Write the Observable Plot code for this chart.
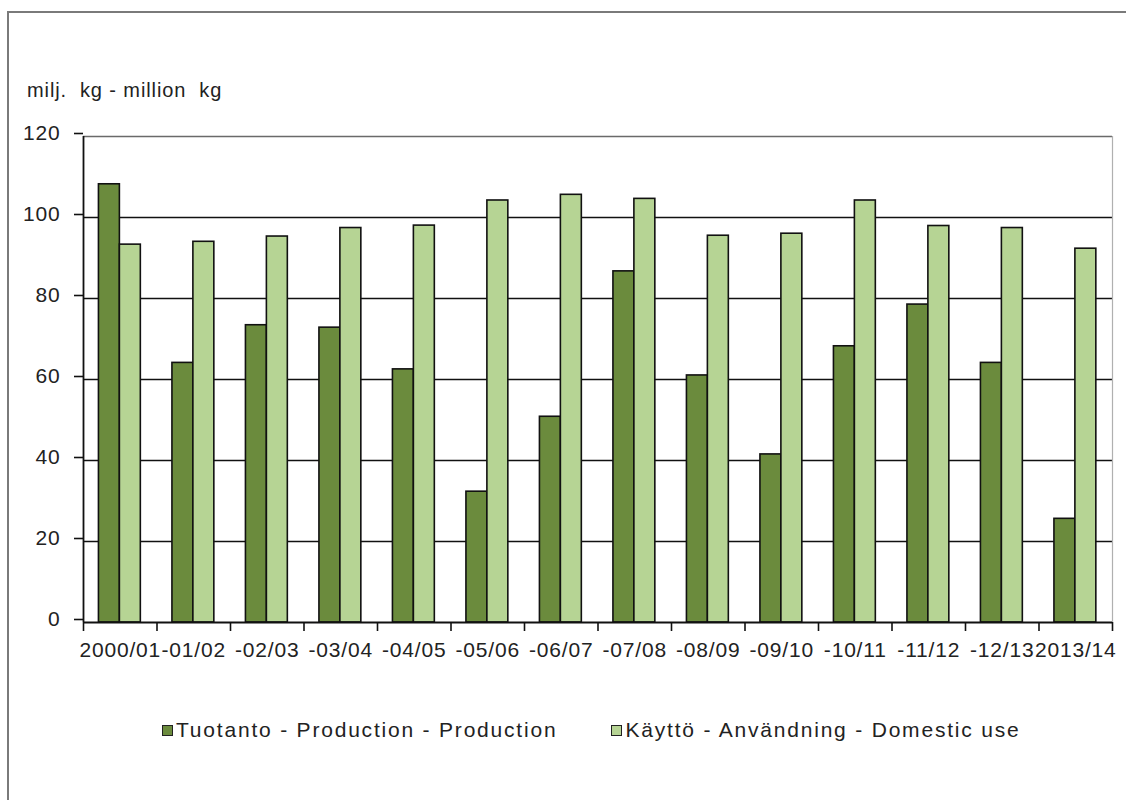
<!DOCTYPE html>
<html>
<head>
<meta charset="utf-8">
<script src="https://cdn.jsdelivr.net/npm/d3@7"></script>
<script src="https://cdn.jsdelivr.net/npm/@observablehq/plot@0.6"></script>
<style>
  html, body { margin: 0; padding: 0; background: #fff; }
  #wrap { position: relative; width: 1126px; height: 800px; overflow: hidden; font-family: "Liberation Sans", Arial, sans-serif; color: #222; }
  #frame { position: absolute; left: 7px; top: 11px; width: 1200px; height: 900px; border-left: 2px solid #7a7a7a; border-top: 2px solid #7a7a7a; }
  #chart { position: absolute; left: 0; top: 0; }
  #title { position: absolute; left: 27px; top: 79px; font-size: 20px; white-space: pre; letter-spacing: 0.9px; }
  #legend { position: absolute; left: 162px; top: 718px; font-size: 21px; white-space: pre; display: flex; align-items: center; letter-spacing: 1.8px; }
  .sw { display: inline-block; width: 9px; height: 9px; border: 1.5px solid #222; margin-right: 3px; }
</style>
</head>
<body>
<div id="wrap">
  <div id="frame"></div>
  <div id="chart"></div>
  <div id="title">milj.  kg - million  kg</div>
  <div id="legend"></div>
</div>
<script>
const categories = ["2000/01", "-01/02", "-02/03", "-03/04", "-04/05", "-05/06", "-06/07", "-07/08", "-08/09", "-09/10", "-10/11", "-11/12", "-12/13", "2013/14"];
const production = [108.2, 64.1, 73.4, 72.8, 62.5, 32.3, 50.8, 86.7, 61.0, 41.5, 68.2, 78.5, 64.1, 25.6];
const domesticUse = [93.3, 94.0, 95.3, 97.4, 98.0, 104.2, 105.6, 104.6, 95.5, 96.0, 104.2, 97.9, 97.4, 92.3];
const seriesNames = ["Tuotanto - Production - Production", "Käyttö - Användning - Domestic use"];
const colors = ["#6b8b3d", "#b6d494"];
const yTicks = [0, 20, 40, 60, 80, 100, 120];

const rows = categories.map((c, i) => ({i, cat: c, prod: production[i], use: domesticUse[i]}));

const chart = Plot.plot({
  width: 1126,
  height: 800,
  marginLeft: 83,
  marginRight: 14,
  marginTop: 136,
  marginBottom: 178,
  style: {fontFamily: "Liberation Sans, Arial, sans-serif", fontSize: "21px", color: "#222", background: "transparent"},
  x: {type: "linear", domain: [0, categories.length], axis: null},
  y: {domain: [0, 120], axis: null},
  marks: [
    Plot.ruleY(yTicks.filter(t => t > 0 && t < 120), {stroke: "#111", strokeWidth: 1.6}),
    Plot.ruleY([120], {stroke: "#6a6a6a", strokeWidth: 1.6}),
    Plot.ruleX([categories.length], {stroke: "#b0b0b0", strokeWidth: 1.2}),
    Plot.rectY(rows, {x1: d => d.i + 0.21, x2: d => d.i + 0.495, y: "prod", fill: colors[0], stroke: "#111", strokeWidth: 1.6}),
    Plot.rectY(rows, {x1: d => d.i + 0.495, x2: d => d.i + 0.78, y: "use", fill: colors[1], stroke: "#111", strokeWidth: 1.6}),
    Plot.ruleX([0], {stroke: "#111", strokeWidth: 1.8}),
    Plot.ruleY([0], {stroke: "#111", strokeWidth: 1.8}),
    Plot.axisY({ticks: yTicks, tickSize: 9, tickPadding: 14, stroke: "#111", strokeWidth: 1.6, dy: -3, fontSize: 21, tickFormat: d => d}),
    Plot.axisX({ticks: d3.range(categories.length + 1), tickSize: 9, tickFormat: () => "", stroke: "#111", strokeWidth: 1.6}),
    Plot.axisX({ticks: d3.range(categories.length).map(i => i + 0.5), tickSize: 0, tickPadding: 20, tickFormat: v => categories[Math.floor(v)], fontSize: 21})
  ]
});
chart.querySelectorAll("text").forEach(t => t.setAttribute("letter-spacing", "0.8"));
document.getElementById("chart").appendChild(chart);

const legend = document.getElementById("legend");
seriesNames.forEach((name, k) => {
  const item = document.createElement("span");
  item.style.display = "inline-flex";
  item.style.alignItems = "center";
  item.style.marginRight = k === 0 ? "54px" : "0";
  const sw = document.createElement("span");
  sw.className = "sw";
  sw.style.background = colors[k];
  item.appendChild(sw);
  item.appendChild(document.createTextNode(name));
  legend.appendChild(item);
});
</script>
</body>
</html>
